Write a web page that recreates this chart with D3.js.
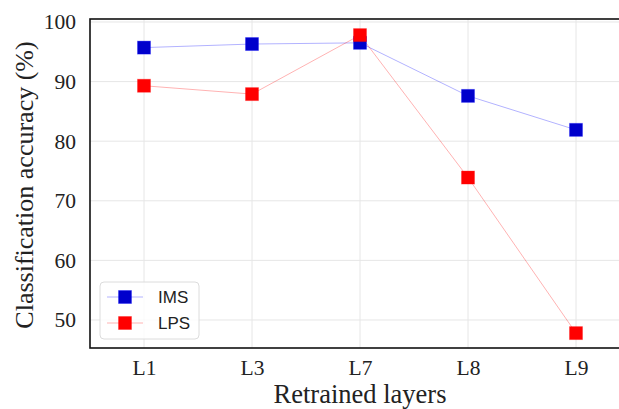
<!DOCTYPE html>
<html>
<head>
<meta charset="utf-8">
<script src="https://cdn.jsdelivr.net/npm/d3@7"></script>
<style>
  body { margin: 0; background: #fff; }
  svg { display: block; }
</style>
</head>
<body>
<svg id="chart" width="619" height="409"></svg>
<script>
// Data
const layers = ['L1', 'L3', 'L7', 'L8', 'L9']
const imsValues = [95.7, 96.3, 96.5, 87.6, 81.9]
const lpsValues = [89.3, 87.9, 97.8, 73.9, 47.8]
const yTicks = [50, 60, 70, 80, 90, 100]

const series = [
  { name: 'IMS', values: imsValues, color: '#0000cc', line: 'rgba(0,0,255,0.3)' },
  { name: 'LPS', values: lpsValues, color: '#ff0000', line: 'rgba(255,0,0,0.3)' },
]

const plot = { left: 90, top: 19, right: 630, bottom: 348 }
const serif = '"Liberation Serif", "DejaVu Serif", serif'
const sans = '"Liberation Sans", Arial, sans-serif'
const marker = 13

const x = d3.scalePoint()
  .domain(layers)
  .range([plot.left, plot.right])
  .padding(0.5)

const y = d3.scaleLinear()
  .domain([45.3, 100.5])
  .range([plot.bottom, plot.top])

const svg = d3.select('#chart')

// Grid
svg.append('g')
  .selectAll('line')
  .data(yTicks)
  .join('line')
    .attr('x1', plot.left).attr('x2', plot.right)
    .attr('y1', d => y(d)).attr('y2', d => y(d))
    .attr('stroke', '#e6e6e6').attr('stroke-width', 1)
svg.append('g')
  .selectAll('line')
  .data(layers)
  .join('line')
    .attr('x1', d => x(d)).attr('x2', d => x(d))
    .attr('y1', plot.top).attr('y2', plot.bottom)
    .attr('stroke', '#e6e6e6').attr('stroke-width', 1)

// Axes (labels only, no tick marks)
svg.append('g')
  .attr('transform', 'translate(' + plot.left + ',0)')
  .call(d3.axisLeft(y).tickValues(yTicks).tickSize(0).tickPadding(14))
  .call(g => g.select('.domain').remove())
  .call(g => g.selectAll('text')
    .attr('font-family', serif).attr('font-size', 21.5).attr('fill', '#222'))

svg.append('g')
  .attr('transform', 'translate(0,' + plot.bottom + ')')
  .call(d3.axisBottom(x).tickSize(0).tickPadding(12))
  .call(g => g.select('.domain').remove())
  .call(g => g.selectAll('text')
    .attr('font-family', serif).attr('font-size', 21.5).attr('fill', '#222'))

// Lines and markers
const line = d3.line()
  .x((d, i) => x(layers[i]))
  .y(d => y(d))

series.forEach(s => {
  svg.append('path')
    .datum(s.values)
    .attr('d', line)
    .attr('fill', 'none')
    .attr('stroke', s.line)
    .attr('stroke-width', 1)
})
series.forEach(s => {
  svg.append('g')
    .selectAll('rect')
    .data(s.values)
    .join('rect')
      .attr('x', (d, i) => x(layers[i]) - marker / 2)
      .attr('y', d => y(d) - marker / 2)
      .attr('width', marker).attr('height', marker)
      .attr('fill', s.color)
      .attr('stroke', s.line).attr('stroke-width', 1)
})

// Frame
svg.append('rect')
  .attr('x', plot.left).attr('y', plot.top)
  .attr('width', plot.right - plot.left).attr('height', plot.bottom - plot.top)
  .attr('fill', 'none').attr('stroke', '#111').attr('stroke-width', 1.6)

// Axis titles
svg.append('text')
  .attr('x', (plot.left + plot.right) / 2).attr('y', 403)
  .attr('text-anchor', 'middle')
  .attr('font-family', serif).attr('font-size', 26.5).attr('fill', '#222')
  .text('Retrained layers')

svg.append('text')
  .attr('transform', 'translate(33,185) rotate(-90)')
  .attr('text-anchor', 'middle')
  .attr('font-family', serif).attr('font-size', 26).attr('fill', '#222')
  .text('Classification accuracy (%)')

// Legend
const legend = svg.append('g').attr('transform', 'translate(100,282)')
legend.append('rect')
  .attr('width', 99).attr('height', 57).attr('rx', 4)
  .attr('fill', 'rgba(255,255,255,0.8)').attr('stroke', '#dcdcdc')
series.forEach((s, i) => {
  const cy = 15 + i * 26
  legend.append('line')
    .attr('x1', 7).attr('x2', 43).attr('y1', cy).attr('y2', cy)
    .attr('stroke', s.line)
  legend.append('rect')
    .attr('x', 25 - marker / 2).attr('y', cy - marker / 2)
    .attr('width', marker).attr('height', marker)
    .attr('fill', s.color).attr('stroke', s.line)
  legend.append('text')
    .attr('x', 58).attr('y', cy).attr('dy', '0.35em')
    .attr('font-family', sans).attr('font-size', 17).attr('fill', '#222')
    .text(s.name)
})
</script>
</body>
</html>
